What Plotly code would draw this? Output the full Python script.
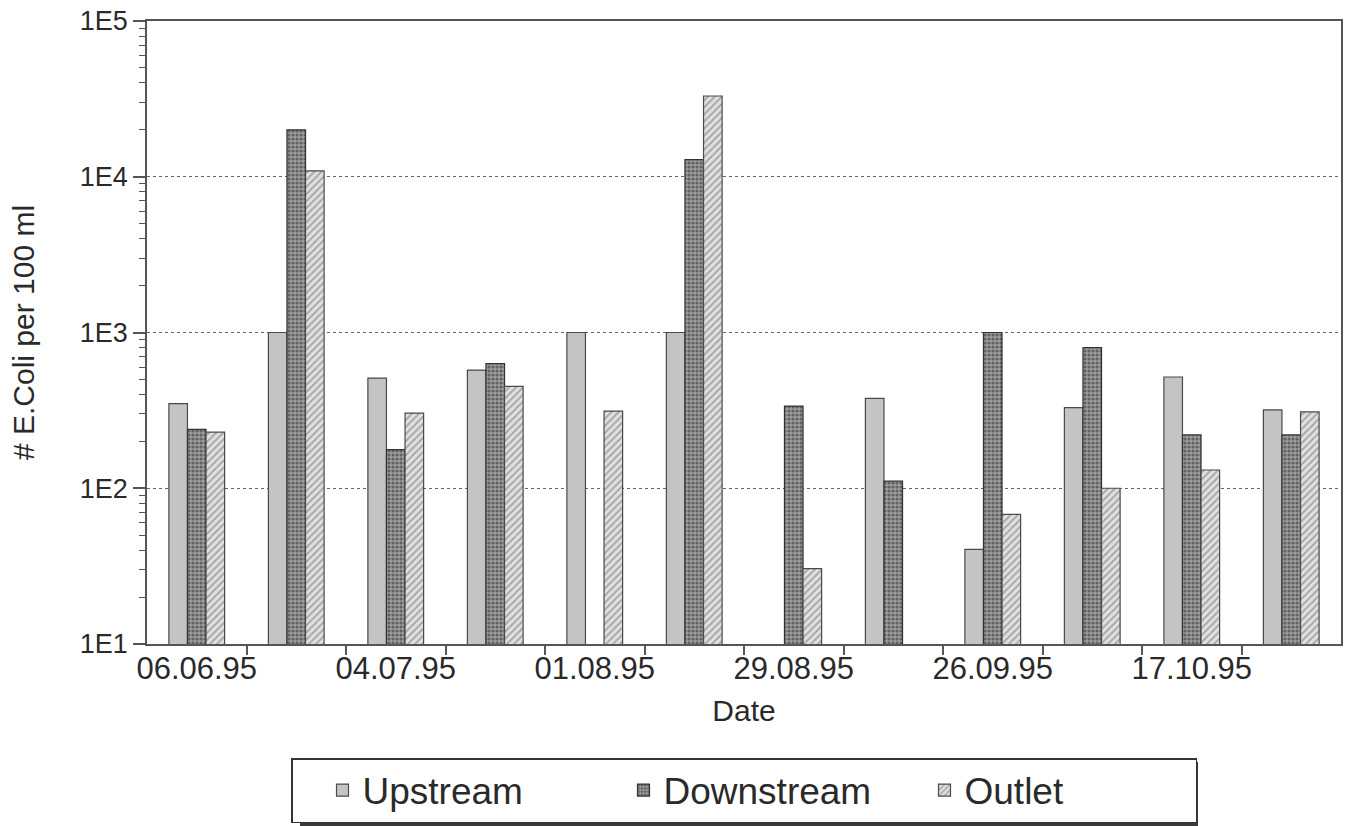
import plotly.graph_objects as go

# ---- data ----
group_index = list(range(12))
tick_positions = [0, 2, 4, 6, 8, 10]
tick_labels = ["06.06.95", "04.07.95", "01.08.95", "29.08.95", "26.09.95", "17.10.95"]
series_names = ["Upstream", "Downstream", "Outlet"]
upstream = [349, 1000, 510, 574, 1000, 1000, None, 378, 40.5, 329, 518, 319]
downstream = [239, 20000, 177, 631, None, 12900, 337, 111, 1000, 799, 220, 220]
outlet = [229, 10900, 304, 451, 313, 33000, 30.5, None, 68, 100, 131, 309]
y_tickvals = [10, 100, 1000, 10000, 100000]
y_ticktext = ["1E1", "1E2", "1E3", "1E4", "1E5"]

FONT = "Liberation Sans, Arial, sans-serif"
TXT = "#2a2a2a"

W, H = 1351, 826
ML, MR, MT, MB = 147, 10, 21, 182
PW, PH = W - ML - MR, H - MT - MB


def px_x(px):
    return (px - ML) / PW


def px_y(py):
    return (H - MB - py) / PH


fig = go.Figure()
styles = [
    dict(color="#c4c4c4", line=dict(color="#4a4a4a", width=1.2)),
    dict(color="#959595", line=dict(color="#333", width=1.2),
         pattern=dict(shape=".", fgcolor="#262626", bgcolor="#9c9c9c", size=4, solidity=0.5)),
    dict(color="#d0d0d0", line=dict(color="#4a4a4a", width=1.2),
         pattern=dict(shape="/", fgcolor="#6a6a6a", bgcolor="#e0e0e0", size=5, solidity=0.35)),
]
for name, vals, st in zip(series_names, [upstream, downstream, outlet], styles):
    fig.add_trace(go.Bar(x=group_index, y=vals, name=name, marker=st))

minor_y = [m * 10 ** e for e in range(1, 5) for m in range(2, 10)]

fig.update_layout(
    width=W, height=H,
    margin=dict(l=ML, r=MR, t=MT, b=MB, autoexpand=False),
    paper_bgcolor="white", plot_bgcolor="white",
    barmode="group", bargap=0.44, bargroupgap=0,
    font=dict(family=FONT, color=TXT),
    showlegend=True,
    legend=dict(
        orientation="h", x=0.5, xanchor="center", y=px_y(758), yanchor="top",
        font=dict(size=37, family=FONT, color=TXT),
        bgcolor="white", bordercolor="#333", borderwidth=1.5,
        entrywidth=226, indentation=30, traceorder="normal",
    ),
    shapes=[
        # legend drop shadow
        dict(type="rect", xref="paper", yref="paper", layer="below",
             x0=px_x(300), x1=px_x(1198), y0=px_y(762), y1=px_y(828),
             fillcolor="#3a3a3a", line=dict(width=0)),
    ],
)

fig.update_xaxes(
    range=[-0.5, 11.5], automargin=False,
    tickmode="array", tickvals=tick_positions, ticktext=tick_labels,
    ticks="", tickfont=dict(size=31, family=FONT, color=TXT),
    ticklabelstandoff=-4,
    showgrid=False, zeroline=False,
    showline=True, linecolor="#555", linewidth=1.5, mirror=True,
    minor=dict(tickmode="array", tickvals=[i + 0.5 for i in group_index[:-1]],
               ticks="outside", ticklen=9, tickcolor="#555", tickwidth=1.5, showgrid=False),
    title=dict(text="Date", font=dict(size=30, family=FONT, color=TXT), standoff=15),
)

fig.update_yaxes(
    type="log", range=[1, 5], automargin=False,
    tickmode="array", tickvals=y_tickvals, ticktext=y_ticktext,
    ticks="outside", ticklen=12, tickcolor="#555", tickwidth=1.5,
    tickfont=dict(size=27, family=FONT, color=TXT),
    showgrid=True, gridcolor="#666", griddash="dot", gridwidth=1.2,
    showline=True, linecolor="#555", linewidth=1.5, mirror=True,
    minor=dict(tickmode="array", tickvals=minor_y, ticks="outside", ticklen=6,
               tickcolor="#555", tickwidth=1.2, showgrid=False),
    title=dict(text="# E.Coli per 100 ml", font=dict(size=30, family=FONT, color=TXT), standoff=36),
)

fig.write_html("out.html", config={"displayModeBar": False},
               post_script="document.body.style.margin='0';")
